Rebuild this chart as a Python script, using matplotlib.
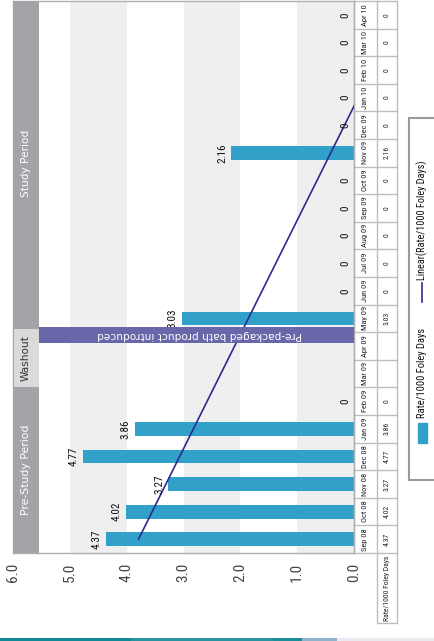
import numpy as np
import matplotlib
matplotlib.use("Agg")
import matplotlib.pyplot as plt
from matplotlib import font_manager
from matplotlib.patches import Rectangle
from matplotlib.lines import Line2D
import matplotlib.transforms as mtransforms

# pick a condensed font if one is installed
names = {f.name for f in font_manager.fontManager.ttflist}
narrow = next((n for n in ["Liberation Sans Narrow", "DejaVu Sans Condensed",
                           "Roboto Condensed", "Liberation Sans"] if n in names), "DejaVu Sans")
is_narrow = narrow != "Liberation Sans"
shrink = 1.0 if is_narrow else 0.85
plain = "DejaVu Sans"

# data (Sep 08 .. Apr 10), Mar 09 and Apr 09 are blank (washout)
months = ["Sep 08", "Oct 08", "Nov 08", "Dec 08", "Jan 09", "Feb 09", "Mar 09", "Apr 09",
          "May 09", "Jun 09", "Jul 09", "Aug 09", "Sep 09", "Oct 09", "Nov 09", "Dec 09",
          "Jan 10", "Feb 10", "Mar 10", "Apr 10"]
rate = [4.37, 4.02, 3.27, 4.77, 3.86, 0, np.nan, np.nan, 3.03, 0, 0, 0, 0, 0, 2.16,
        0, 0, 0, 0, 0]
value_ticks = [0, 1, 2, 3, 4, 5, 6]
periods = ["Pre-Study Period", "Washout", "Study Period"]

bar_color = "#31A1C9"
line_color = "#2E2A8E"
grid_grey = "#BDBDBD"

fig = plt.figure(figsize=(4.35, 6.41), dpi=100)
ax = fig.add_axes([13 / 435, 88 / 641, 341 / 435, 552 / 641])

pos = np.arange(len(months))
vals = np.array(rate, dtype=float)

ax.set_xlim(6, 0)
ax.set_ylim(-0.5, len(months) - 0.5)

# alternating background bands
for lo in (0, 2, 4):
    ax.axvspan(lo, lo + 1, color="#EFEFEF", zorder=0, lw=0)

ok = ~np.isnan(vals)
ax.barh(pos[ok], vals[ok], height=0.5, color=bar_color, zorder=2)

# value labels
for p, v in zip(pos[ok], vals[ok]):
    ax.annotate(f"{v:g}", xy=(v, p), xytext=(-4, 0), textcoords="offset pixels",
                rotation=90, ha="right", va="center", fontsize=8 * shrink,
                family=narrow, color="#111111", zorder=4)

# linear trend (blanks excluded)
slope, icpt = np.polyfit(pos[ok] + 1, vals[ok], 1)
trend = icpt + slope * (pos + 1)
ax.plot(trend, pos, color=line_color, lw=1.2, zorder=3)

bt = mtransforms.blended_transform_factory(ax.transAxes, ax.transData)

# period headers
hw = 26 / 341
ax.add_patch(Rectangle((0, -0.5), hw, 20, transform=bt, color="#A3A3A8", zorder=5, lw=0))
ax.add_patch(Rectangle((0.004, 5.5), hw - 0.004, 2.1, transform=bt, color="#DADADA",
                       zorder=6, lw=0))
ax.text(hw / 2, 2.5, periods[0], transform=bt, rotation=90, ha="center", va="center",
        color="white", fontsize=7.8, family=plain, zorder=7)
ax.text(hw / 2, 6.55, periods[1], transform=bt, rotation=90, ha="center", va="center",
        color="#333333", fontsize=7.6, family=plain, zorder=7)
ax.text(hw / 2, 13.6, periods[2], transform=bt, rotation=90, ha="center", va="center",
        color="white", fontsize=7.6, family=plain, zorder=7)

# product introduced marker
ax.add_patch(Rectangle((hw, 7.12), 1 - hw, 0.58, transform=bt, color="#6767A9",
                       zorder=5, lw=0))
ax.text(0.548, 7.41, "Pre-packaged bath product introduced", transform=bt, rotation=180,
        ha="center", va="center", color="white", fontsize=7.6, family=plain, zorder=7)

# axis styling
ax.set_xticks(value_ticks)
ax.set_xticklabels([f"{t:.1f}" for t in value_ticks], rotation=90,
                   fontsize=11 if is_narrow else 9.8,
                   family=narrow, color="#444444")
ax.tick_params(axis="x", length=0, pad=7)
ax.set_yticks([])
for s in ax.spines.values():
    s.set_color("#AFAFAF")
    s.set_linewidth(1.0)

# data table on the right
c0, c1, c2 = 1.0, 364 / 341, 384 / 341
for k in range(len(months) + 1):
    ax.add_line(Line2D([c0, c2], [k - 0.5, k - 0.5], transform=bt, color=grid_grey,
                       lw=1, clip_on=False))
for cx in (c0, c1, c2):
    ax.add_line(Line2D([cx, cx], [-0.5, len(months) - 0.5], transform=bt,
                       color=grid_grey, lw=1, clip_on=False))
hdr_bottom = -0.5 - 70 / 27.6
ax.add_line(Line2D([c1, c1, c2, c2], [-0.5, hdr_bottom, hdr_bottom, -0.5], transform=bt,
                   color=grid_grey, lw=1, clip_on=False))
for p, m, v in zip(pos, months, vals):
    ax.text((c0 + c1) / 2, p, m, transform=bt, rotation=90, ha="center", va="center",
            fontsize=6 * shrink, family=narrow, color="#222222", clip_on=False)
    if not np.isnan(v):
        ax.text((c1 + c2) / 2, p, f"{v:g}", transform=bt, rotation=90, ha="center",
                va="center", fontsize=5.5 * shrink, family=narrow, color="#222222",
                clip_on=False)
ax.text((c1 + c2) / 2, (-0.5 + hdr_bottom) / 2, "Rate/1000 Foley Days", transform=bt,
        rotation=90, ha="center", va="center", fontsize=5.5 * shrink, family=narrow,
        color="#222222", clip_on=False)

# legend (drawn by hand since it is rotated)
fig.patches.append(Rectangle((409 / 435, 161 / 641), 0.12, 362 / 641,
                             transform=fig.transFigure, facecolor="white",
                             edgecolor="#9A9A9A", lw=1.5))
fig.patches.append(Rectangle((418 / 435, 198 / 641), 9 / 435, 20 / 641,
                             transform=fig.transFigure, color=bar_color))
fig.text(422.5 / 435, 223 / 641, "Rate/1000 Foley Days", rotation=90, ha="center",
         va="bottom", fontsize=7.6 * shrink, family=narrow, color="#111111")
fig.lines.append(Line2D([422 / 435, 422 / 435], [339 / 641, 358 / 641],
                        transform=fig.transFigure, color=line_color, lw=1.2))
fig.text(422.5 / 435, 361 / 641, "Linear(Rate/1000 Foley Days)", rotation=90,
         ha="center", va="bottom", fontsize=7.4 * shrink, family=narrow, color="#111111")

# decorative strip at the bottom of the page
for x0, x1, col in [(0, 131, "#108896"), (131, 273, "#2A95A0"), (273, 302, "#1A8E9A"),
                    (302, 337, "#8DB4CC"), (337, 435, "#EAEAF0")]:
    fig.patches.append(Rectangle((x0 / 435, 0), (x1 - x0) / 435, 3 / 641,
                                 transform=fig.transFigure, color=col, lw=0))

fig.savefig("out.png", dpi=100)
